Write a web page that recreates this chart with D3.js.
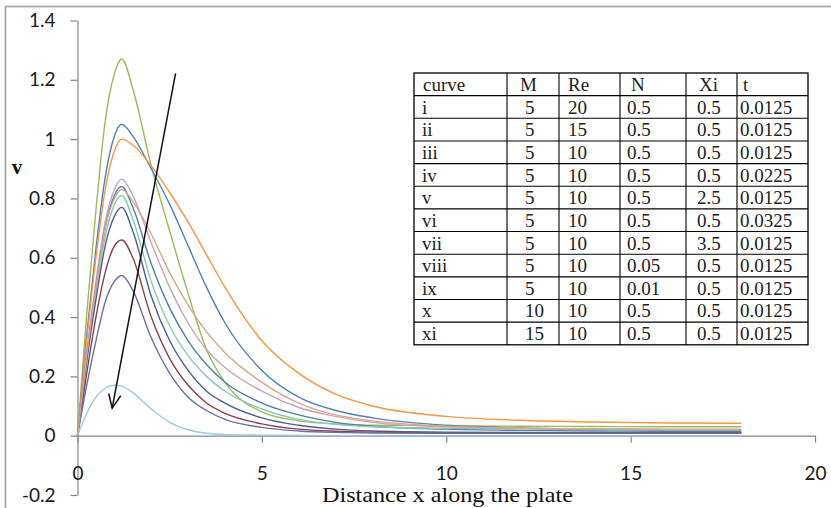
<!DOCTYPE html>
<html>
<head>
<meta charset="utf-8">
<script src="https://cdn.jsdelivr.net/npm/d3@7"></script>
<style>
  body { margin: 0; background: #fff; }
  svg { display: block; }
</style>
</head>
<body>
<svg id="chart" width="831" height="508"></svg>
<script>
const xs = [0, 0.25, 0.5, 0.75, 1, 1.2, 1.5, 2, 2.5, 3, 3.5, 4, 5, 6, 7, 8, 10, 12, 14, 16, 18];

// v values of each curve
const curveI    = [0, 0.41, 0.76, 1.06, 1.22, 1.27, 1.17, 0.91, 0.69, 0.48, 0.29, 0.18, 0.08, 0.05, 0.04, 0.035, 0.033, 0.032, 0.031, 0.03, 0.03];
const curveII   = [0, 0.34, 0.63, 0.87, 1.01, 1.05, 1.01, 0.9, 0.78, 0.64, 0.5, 0.38, 0.22, 0.13, 0.085, 0.06, 0.035, 0.026, 0.022, 0.02, 0.02];
const curveIII  = [0, 0.32, 0.6, 0.83, 0.96, 1.0, 0.98, 0.91, 0.82, 0.72, 0.61, 0.5, 0.32, 0.21, 0.14, 0.1, 0.065, 0.052, 0.046, 0.043, 0.042];
const curveIV   = [0, 0.28, 0.52, 0.72, 0.83, 0.865, 0.81, 0.65, 0.5, 0.38, 0.29, 0.23, 0.15, 0.095, 0.065, 0.045, 0.03, 0.024, 0.021, 0.02, 0.02];
const curveV    = [0, 0.27, 0.5, 0.7, 0.81, 0.84, 0.77, 0.58, 0.43, 0.32, 0.24, 0.18, 0.11, 0.07, 0.045, 0.032, 0.022, 0.018, 0.016, 0.015, 0.015];
const curveVI   = [0, 0.26, 0.49, 0.67, 0.78, 0.81, 0.73, 0.52, 0.37, 0.27, 0.2, 0.15, 0.09, 0.055, 0.038, 0.03, 0.025, 0.024, 0.023, 0.022, 0.022];
const curveVII  = [0, 0.25, 0.46, 0.64, 0.74, 0.77, 0.69, 0.47, 0.32, 0.22, 0.15, 0.11, 0.06, 0.035, 0.022, 0.016, 0.012, 0.011, 0.01, 0.01, 0.01];
const curveVIII = [0, 0.21, 0.4, 0.55, 0.64, 0.66, 0.6, 0.4, 0.26, 0.17, 0.11, 0.075, 0.04, 0.022, 0.015, 0.012, 0.01, 0.01, 0.01, 0.01, 0.01];
const curveIX   = [0, 0.17, 0.32, 0.45, 0.52, 0.54, 0.49, 0.33, 0.21, 0.13, 0.085, 0.055, 0.028, 0.016, 0.011, 0.009, 0.008, 0.008, 0.008, 0.008, 0.008];
const curveX    = [0, 0.075, 0.13, 0.16, 0.17, 0.167, 0.145, 0.09, 0.045, 0.02, 0.008, 0.004, 0.002, 0.001, 0, 0, 0, 0, 0, 0, 0];
const curveXI   = [0, 0.27, 0.5, 0.7, 0.8, 0.83, 0.79, 0.68, 0.55, 0.44, 0.35, 0.28, 0.18, 0.11, 0.07, 0.05, 0.032, 0.025, 0.022, 0.02, 0.02];

const allCurves = [curveI, curveII, curveIII, curveIV, curveV, curveVI, curveVII, curveVIII, curveIX, curveX, curveXI];
const curveColors = ["#9BBB59", "#4F81BD", "#F79646", "#C9A3B6", "#4E7FA6", "#8CC8B8",
                     "#4D5D94", "#8E3F4A", "#6C6FA8", "#9DCBDD", "#D8A58A"];

// axis ticks
const xTicks = [0, 5, 10, 15, 20];
const yTicks = [-0.2, 0, 0.2, 0.4, 0.6, 0.8, 1, 1.2, 1.4];

// parameter table
const tableHeader = ["curve", "M", "Re", "N", "Xi", "t"];
const curveNames = ["i", "ii", "iii", "iv", "v", "vi", "vii", "viii", "ix", "x", "xi"];
const valuesM  = ["5", "5", "5", "5", "5", "5", "5", "5", "5", "10", "15"];
const valuesRe = ["20", "15", "10", "10", "10", "10", "10", "10", "10", "10", "10"];
const valuesN  = ["0.5", "0.5", "0.5", "0.5", "0.5", "0.5", "0.5", "0.05", "0.01", "0.5", "0.5"];
const valuesXi = ["0.5", "0.5", "0.5", "0.5", "2.5", "0.5", "3.5", "0.5", "0.5", "0.5", "0.5"];
const valuesT  = ["0.0125", "0.0125", "0.0125", "0.0225", "0.0125", "0.0325", "0.0125", "0.0125", "0.0125", "0.0125", "0.0125"];

// arrow drawn in data coords (tail, head)
const arrowFrom = [2.66, 1.222];
const arrowTo = [0.94, 0.093];

const svg = d3.select("#chart");

// outer chart border
svg.append("rect")
    .attr("x", 5.5).attr("y", 6.5)
    .attr("width", 850).attr("height", 530)
    .attr("fill", "none")
    .attr("stroke", "#a6a6a6")
    .attr("stroke-width", 1.8);

const x = d3.scaleLinear().domain([0, 20]).range([77.5, 815]);
const y = d3.scaleLinear().domain([-0.2, 1.4]).range([495, 20.5]);

const fmt = d => d === 0 ? "0" : String(+d.toFixed(1));

// y axis
const yAxis = svg.append("g")
    .attr("transform", "translate(" + x(0) + ",0)")
    .call(d3.axisLeft(y).tickValues(yTicks).tickSize(7).tickSizeOuter(0).tickPadding(15).tickFormat(fmt));

// x axis sits on v = 0
const xAxis = svg.append("g")
    .attr("transform", "translate(0," + y(0) + ")")
    .call(d3.axisBottom(x).tickValues(xTicks).tickSize(7).tickSizeOuter(0).tickPadding(24).tickFormat(fmt));

[yAxis, xAxis].forEach(g => {
    g.select(".domain").attr("stroke", "#868686").attr("stroke-width", 1.2);
    g.selectAll(".tick line").attr("stroke", "#868686").attr("stroke-width", 1.2);
    g.selectAll(".tick text")
        .attr("fill", "#1a1a1a")
        .style("font-family", "Lato, 'Open Sans', sans-serif")
        .style("font-size", "19px");
});

// curves
const line = d3.line()
    .x((d, i) => x(xs[i]))
    .y(d => y(d))
    .curve(d3.curveMonotoneX);

svg.append("g")
    .selectAll("path")
    .data(allCurves)
    .enter().append("path")
    .attr("d", d => line(d))
    .attr("fill", "none")
    .attr("stroke", (d, i) => curveColors[i])
    .attr("stroke-width", 1.4);

// arrow
const ax1 = x(arrowFrom[0]), ay1 = y(arrowFrom[1]);
const ax2 = x(arrowTo[0]), ay2 = y(arrowTo[1]);
const ang = Math.atan2(ay2 - ay1, ax2 - ax1);
const headLen = 15, headAng = 0.42;
const arrow = svg.append("g").attr("stroke", "#111").attr("stroke-width", 1.5).attr("fill", "none");
arrow.append("line").attr("x1", ax1).attr("y1", ay1).attr("x2", ax2).attr("y2", ay2);
arrow.append("path")
    .attr("d", "M" + (ax2 - headLen * Math.cos(ang - headAng)) + "," + (ay2 - headLen * Math.sin(ang - headAng)) +
               "L" + ax2 + "," + ay2 +
               "L" + (ax2 - headLen * Math.cos(ang + headAng)) + "," + (ay2 - headLen * Math.sin(ang + headAng)));

// table
const colEdges = [414, 507, 559, 620, 686, 737, 808];
const tableTop = 73, rowH = 22.65;
const headPad = [9, 13, 9, 11, 13, 6];
const cellPad = [8, 18, 9, 7, 11, 3];
const rows = curveNames.map((c, i) => [c, valuesM[i], valuesRe[i], valuesN[i], valuesXi[i], valuesT[i]]);
const nRows = rows.length + 1;

const tbl = svg.append("g");
tbl.append("rect")
    .attr("x", colEdges[0]).attr("y", tableTop)
    .attr("width", colEdges[colEdges.length - 1] - colEdges[0])
    .attr("height", nRows * rowH)
    .attr("fill", "#fff").attr("stroke", "#000").attr("stroke-width", 1.3);
d3.range(1, nRows).forEach(r => {
    tbl.append("line")
        .attr("x1", colEdges[0]).attr("x2", colEdges[colEdges.length - 1])
        .attr("y1", tableTop + r * rowH).attr("y2", tableTop + r * rowH)
        .attr("stroke", "#000").attr("stroke-width", 1.1);
});
colEdges.slice(1, -1).forEach(cx => {
    tbl.append("line")
        .attr("x1", cx).attr("x2", cx)
        .attr("y1", tableTop).attr("y2", tableTop + nRows * rowH)
        .attr("stroke", "#000").attr("stroke-width", 1.1);
});
[tableHeader].concat(rows).forEach((row, r) => {
    row.forEach((txt, c) => {
        tbl.append("text")
            .attr("x", colEdges[c] + (r === 0 ? headPad[c] : cellPad[c]))
            .attr("y", tableTop + r * rowH + rowH / 2)
            .attr("dy", "0.35em")
            .attr("fill", "#222")
            .style("font-family", "'Liberation Serif', 'Times New Roman', serif")
            .style("font-size", "19px")
            .text(txt);
    });
});

// axis titles
svg.append("text")
    .attr("x", 322).attr("y", 502)
    .attr("textLength", 251)
    .attr("lengthAdjust", "spacingAndGlyphs")
    .style("font-family", "'Liberation Serif', 'Times New Roman', serif")
    .style("font-size", "22px")
    .attr("fill", "#111")
    .text("Distance x along the plate");

svg.append("text")
    .attr("x", 17).attr("y", 174)
    .attr("text-anchor", "middle")
    .style("font-family", "'Liberation Serif', 'Times New Roman', serif")
    .style("font-size", "21px")
    .style("font-weight", "bold")
    .attr("fill", "#111")
    .text("v");
</script>
</body>
</html>
